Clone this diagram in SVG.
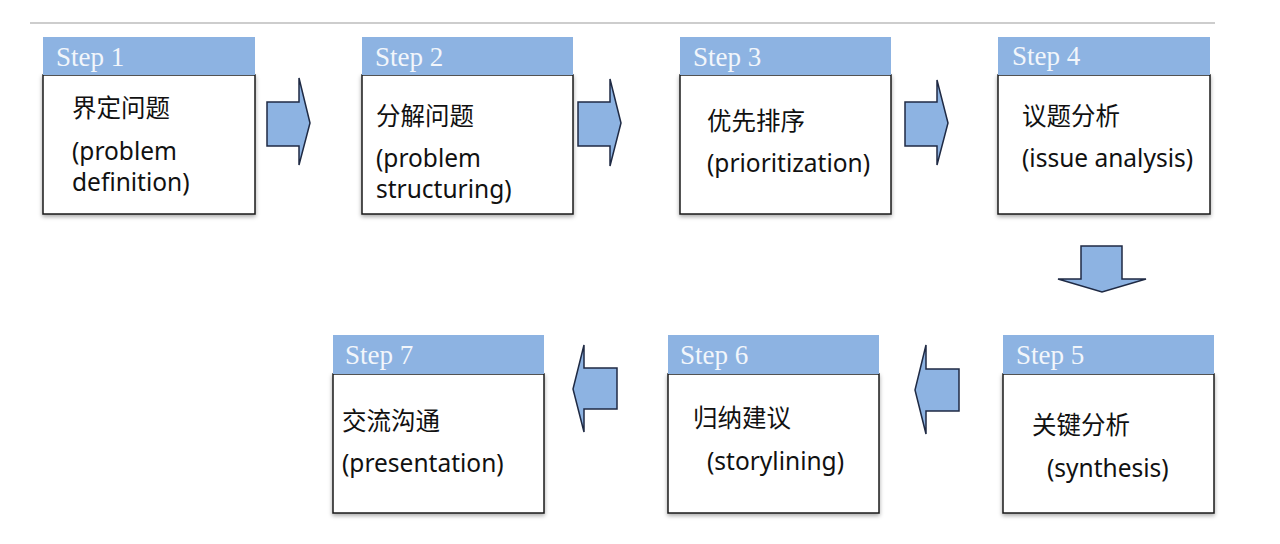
<svg xmlns="http://www.w3.org/2000/svg" width="1280" height="544" viewBox="0 0 1280 544">
<defs>
<filter id="sh" x="-10%" y="-10%" width="125%" height="130%">
<feDropShadow dx="0" dy="2" stdDeviation="2" flood-color="#000" flood-opacity="0.35"/>
</filter>
</defs>
<style>
.hdr{fill:#8DB3E2}
.box{fill:#fff;stroke:#1a1a1a;stroke-width:1.5}
.step{font-family:"Liberation Serif",serif;font-size:27px;fill:#F2F6FB}
.t{font-family:"Noto Sans","Noto Sans CJK SC",sans-serif;font-size:24.5px;fill:#111}
.arr{fill:#8DB3E2;stroke:#1F2A44;stroke-width:1.5;stroke-linejoin:miter}
</style>
<rect width="1280" height="544" fill="#fff"/>
<line x1="30" y1="23" x2="1215" y2="23" stroke="#bdbdbd" stroke-width="1.5"/>

<g id="step1">
<rect class="box" x="43" y="75" width="212" height="139" filter="url(#sh)"/>
<rect class="hdr" x="43" y="37" width="212" height="38"/>
<text class="step" x="56" y="66">Step 1</text>
<text class="t" x="72" y="117">界定问题</text>
<text class="t" x="72" y="160">(problem</text>
<text class="t" x="72" y="191">definition)</text>
</g>

<g id="step2">
<rect class="box" x="362" y="75" width="211" height="139" filter="url(#sh)"/>
<rect class="hdr" x="362" y="37" width="211" height="38"/>
<text class="step" x="375" y="66">Step 2</text>
<text class="t" x="376" y="125">分解问题</text>
<text class="t" x="376" y="167">(problem</text>
<text class="t" x="376" y="198">structuring)</text>
</g>

<g id="step3">
<rect class="box" x="680" y="75" width="211" height="139" filter="url(#sh)"/>
<rect class="hdr" x="680" y="37" width="211" height="38"/>
<text class="step" x="693" y="66">Step 3</text>
<text class="t" x="707" y="130">优先排序</text>
<text class="t" x="707" y="172">(prioritization)</text>
</g>

<g id="step4">
<rect class="box" x="998" y="75" width="212" height="139" filter="url(#sh)"/>
<rect class="hdr" x="998" y="37" width="212" height="38"/>
<text class="step" x="1012" y="65">Step 4</text>
<text class="t" x="1022" y="125">议题分析</text>
<text class="t" x="1022" y="167">(issue analysis)</text>
</g>

<g id="step5">
<rect class="box" x="1003" y="374" width="211" height="139" filter="url(#sh)"/>
<rect class="hdr" x="1003" y="335" width="211" height="39"/>
<text class="step" x="1016" y="364">Step 5</text>
<text class="t" x="1032" y="434">关键分析</text>
<text class="t" x="1047" y="477">(synthesis)</text>
</g>

<g id="step6">
<rect class="box" x="668" y="374" width="211" height="139" filter="url(#sh)"/>
<rect class="hdr" x="668" y="335" width="211" height="39"/>
<text class="step" x="680" y="364">Step 6</text>
<text class="t" x="693" y="427">归纳建议</text>
<text class="t" x="707" y="470">(storylining)</text>
</g>

<g id="step7">
<rect class="box" x="333" y="374" width="211" height="139" filter="url(#sh)"/>
<rect class="hdr" x="333" y="335" width="211" height="39"/>
<text class="step" x="345" y="364">Step 7</text>
<text class="t" x="342" y="430">交流沟通</text>
<text class="t" x="342" y="472">(presentation)</text>
</g>

<g id="connectors">
<polygon class="arr" points="267,102 299,102 299,78 310,123 299,165 299,146 267,146"/>
<polygon class="arr" points="578,102 610,102 610,79 621,123 610,166 610,146 578,146"/>
<polygon class="arr" points="905,102 937,102 937,80 948,123 937,165 937,146 905,146"/>
<polygon class="arr" points="1081,246 1122,246 1122,279 1146,279 1102,292 1058,279 1081,279"/>
<polygon class="arr" points="959,369 959,411 926,411 926,434 915,390 926,345 926,369"/>
<polygon class="arr" points="617,368 617,409 584,409 584,432 573,389 584,345 584,368"/>
</g>
</svg>
